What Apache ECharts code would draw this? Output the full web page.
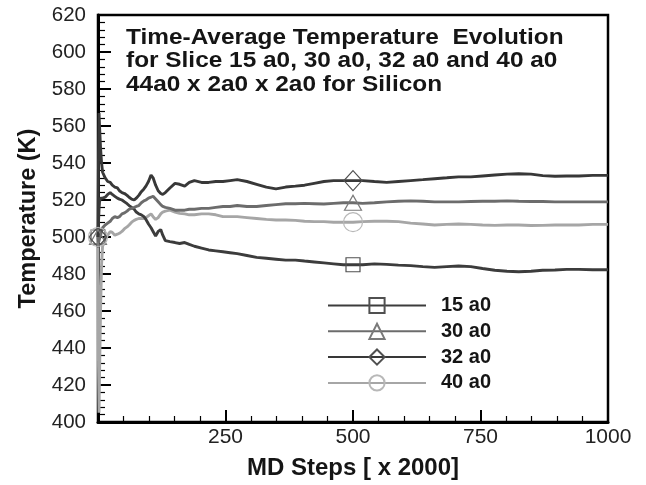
<!DOCTYPE html>
<html>
<head>
<meta charset="utf-8">
<script src="https://cdn.jsdelivr.net/npm/echarts@6/dist/echarts.min.js"></script>
<style>html,body{margin:0;padding:0;background:#fff}#c{width:646px;height:485px}</style>
</head>
<body>
<div id="c"></div>
<script>
const titleLines = ['Time-Average Temperature  Evolution', 'for Slice 15 a0, 30 a0, 32 a0 and 40 a0', '44a0 x 2a0 x 2a0 for Silicon'];
const seriesNames = ['15 a0', '30 a0', '32 a0', '40 a0'];
const xTickLabels = ['250', '500', '750', '1000'];
const steps = [0,1,2,3,5,7,9,14,19,24,
  28,33,38,42,47,52,57,61,66,71,
  75,80,85,90,94,99,104,108,113,118,
  123,127,132,141,151,160,170,179,189,203,
  217,231,245,259,273,292,311,330,349,368,
  387,405,424,443,462,481,500,519,542,566,
  589,613,637,660,684,707,731,754,778,802,
  825,849,872,896,919,943,970,1000];
const t15 = [500,508,515,519,521,521,521,521.5,523,524,
  523,522,521,520.5,520,519,518,517,516,515,
  513.5,512.5,512,511,509.5,507,505,503,500.5,503,
  504,501,498,497.5,497,496.5,497,496,495,494,
  493,492.5,492,491.5,491,490,489,488.5,488,487.5,
  487.5,487,486.5,486,485.5,485,485,485,485.5,485.2,
  484.8,484.5,484,483.6,484,484.3,484,483,482,481.5,
  481.2,481.5,482,482.2,482.5,482.5,482.3,482.3];
const t30 = [500,497,496,498,501,503,505,506.5,507.5,508.5,
  510,511,510.5,511,512.5,513,514,515,515.5,516,
  516.5,517,518.5,519.5,520,521,521.5,522,520.5,519,
  517.5,516.5,516,515.5,514.5,514.5,514.5,515,515,515.5,
  515.5,516,516.5,516.5,517,516.5,516.5,517,517.5,518,
  518,518.2,518,517.8,518.2,518.5,518.5,518.2,518.5,519,
  519.3,519.5,519.3,519,519,519,519.2,519.3,519.3,519.5,
  519.3,519.2,519.2,519,519,519,519,519];
const t32 = [500,545,567,560,548,540,535,532,530,529.5,
  528,527,526.5,525,524,523.5,522.5,521.5,520.5,520,
  521,522.5,524.5,526,527.5,530,533.5,532,528,525,
  523.5,523,524,526.5,529,528.5,527.5,529.5,530.5,529.5,
  529.5,530,530,530.5,531,530,528.5,527,526,527,
  527.5,528,529,530,530.5,530.5,530.5,530.5,530,529.5,
  530,530.5,531,531.5,532,532.5,532.5,533,533.5,534,
  534.2,534,533.2,532.8,533,533,533.3,533.3];
const t40 = [500,430,405,425,460,485,495,499,501,503,
  502.5,501,501.5,502,503,504.5,505.5,506.5,508,509,
  509.5,510,510,510,510.5,511.5,512.5,511,509.5,510.5,
  512.5,513.5,514,514.5,513.5,512.8,512.5,512,512,512.5,
  512.5,512,511,511,511,510.5,510,509.5,509.2,509.2,
  509,508.5,508.3,508.3,508,508,508,508.3,508.5,508.5,
  508.3,507.5,507,506.5,506.8,507,506.8,506.5,506.3,506.5,
  506.5,506.2,506.3,506.5,506.5,506.5,506.8,506.8];
const markerSteps = [0, 500];

const values = [t15, t30, t32, t40];
const lineColors = ['#3c3c3c', '#6c6c6c', '#383838', '#a6a6a6'];
const markColors = ['#505050', '#7a7a7a', '#505050', '#b8b8b8'];
const symbols = ['rect', 'triangle', 'diamond', 'circle'];
const symSizes = [[14,14], [17,15], [18,20], [19,19]];
const FONT = '"Liberation Sans", Arial, sans-serif';

const series = seriesNames.map((name, i) => ({
  name: name,
  type: 'line',
  data: steps.map((s, k) => [s, values[i][k]]),
  showSymbol: false,
  symbol: symbols[i],
  smooth: false,
  lineStyle: { color: lineColors[i], width: 2.9 },
  itemStyle: { color: 'rgba(255,255,255,0)', borderColor: markColors[i], borderWidth: 1.2 },
  emphasis: { disabled: true },
  z: 2 + (i === 3 ? 0 : 1),
  markPoint: {
    symbol: symbols[i],
    symbolSize: symSizes[i],
    label: { show: false },
    itemStyle: { color: 'rgba(255,255,255,0)', borderColor: markColors[i], borderWidth: 1.2 },
    data: markerSteps.map(ms => {
      const k = steps.indexOf(ms);
      return { coord: [steps[k], values[i][k]] };
    })
  }
}));

const chart = echarts.init(document.getElementById('c'), null, { renderer: 'canvas' });
chart.setOption({
  animation: false,
  backgroundColor: '#fff',
  grid: { left: 98, right: 38, top: 15, bottom: 63, show: true, borderColor: '#000', borderWidth: 2.5, backgroundColor: 'transparent' },
  graphic: [{
    type: 'text', x: 126, y: 26, scaleX: 1.135, scaleY: 1, z: 10,
    style: { text: titleLines.join('\n'), font: 'bold 21.5px ' + FONT, lineHeight: 23.5, fill: '#151515', align: 'left', verticalAlign: 'top' }
  }],
  legend: {
    orient: 'vertical', left: 322, top: 290.5, itemWidth: 98, itemHeight: 19, itemGap: 5.8,
    selectedMode: false,
    data: seriesNames,
    textStyle: { fontFamily: FONT, fontWeight: 'bold', fontSize: 20, color: '#151515', padding: [0, 0, 0, 10] }
  },
  xAxis: {
    type: 'value', min: 0, max: 1000, interval: 250,
    name: 'MD Steps [ x 2000]', nameLocation: 'middle', nameGap: 34,
    nameTextStyle: { fontFamily: FONT, fontWeight: 'bold', fontSize: 24, color: '#151515' },
    axisLine: { show: true, lineStyle: { color: '#000', width: 3 } },
    axisTick: { show: true, inside: true, length: 12, lineStyle: { color: '#000', width: 2 } },
    minorTick: { show: true, splitNumber: 5, length: 6, lineStyle: { color: '#000', width: 1.2 } },
    splitLine: { show: false },
    axisLabel: { fontFamily: FONT, fontSize: 21, color: '#222', margin: 5,
      formatter: v => (xTickLabels.indexOf(String(v)) >= 0 ? String(v) : '') }
  },
  yAxis: {
    type: 'value', min: 400, max: 620, interval: 20,
    name: 'Temperature (K)', nameLocation: 'middle', nameGap: 55, nameRotate: 90,
    nameTextStyle: { fontFamily: FONT, fontWeight: 'bold', fontSize: 23.5, color: '#151515' },
    axisLine: { show: true, lineStyle: { color: '#000', width: 3 } },
    axisTick: { show: true, inside: true, length: 13, lineStyle: { color: '#000', width: 2 } },
    minorTick: { show: true, splitNumber: 5, length: 7, lineStyle: { color: '#000', width: 1.2 } },
    splitLine: { show: false },
    axisLabel: { fontFamily: FONT, fontSize: 20.5, color: '#222', margin: 12 }
  },
  series: series
});
</script>
</body>
</html>
